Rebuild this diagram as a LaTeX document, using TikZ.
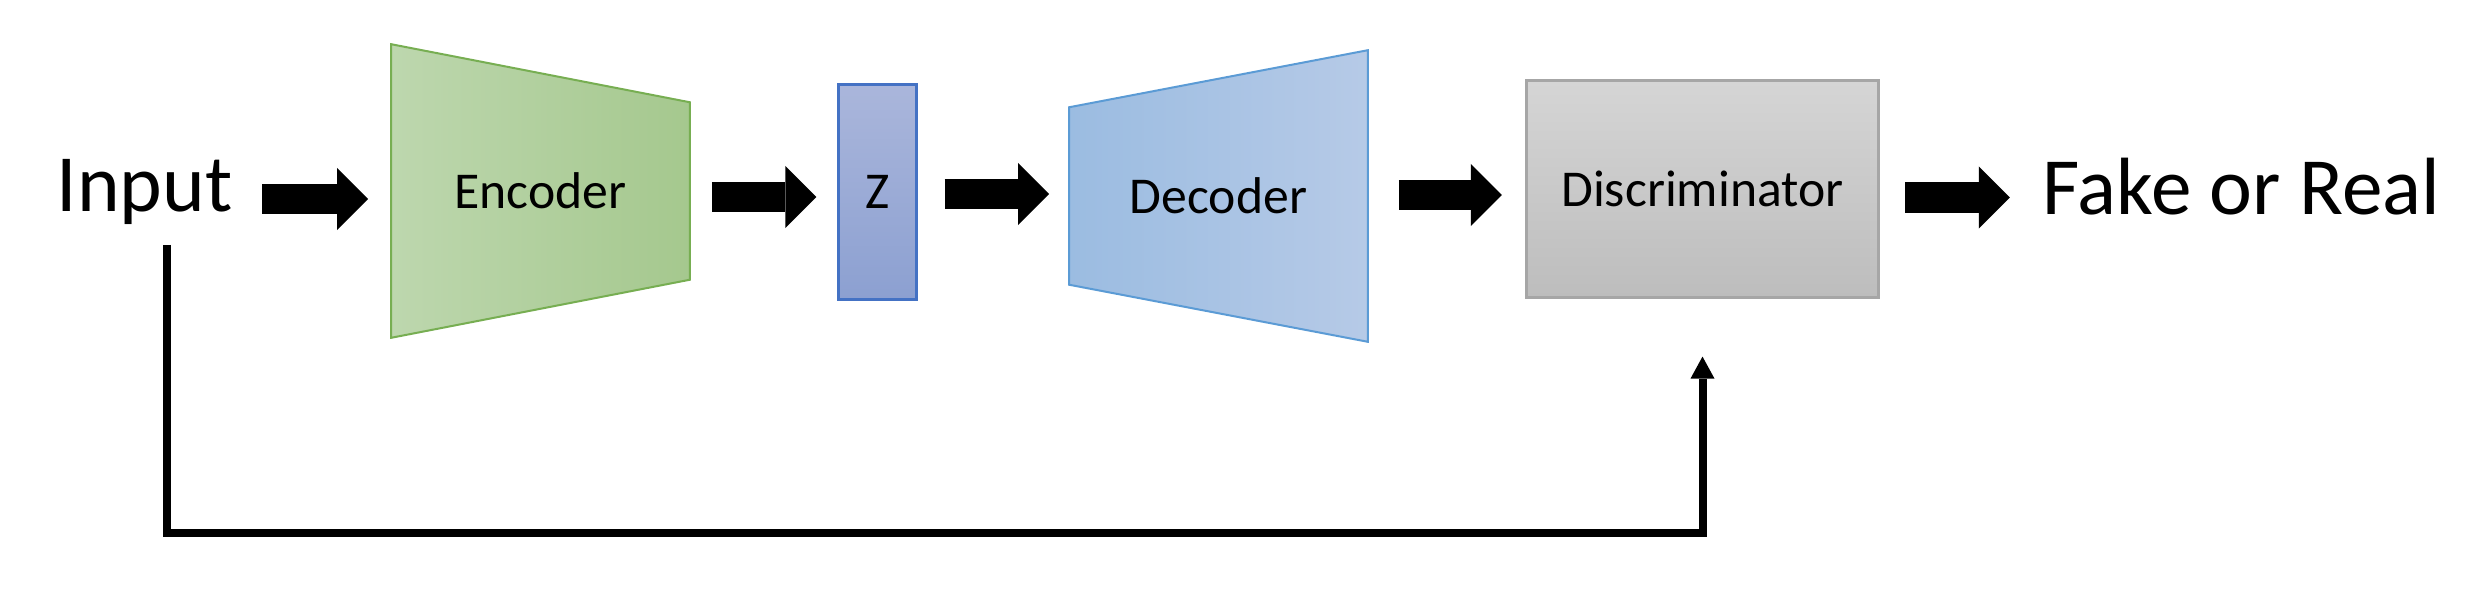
\documentclass[tikz,border=0pt]{standalone}
\usepackage{fontspec}
\setmainfont{Carlito}
\usetikzlibrary{arrows.meta,backgrounds}
\definecolor{encL}{HTML}{BDD7AE}
\definecolor{encR}{HTML}{A5C88E}
\definecolor{encB}{HTML}{77AE52}
\definecolor{decL}{HTML}{9BBCE1}
\definecolor{decR}{HTML}{B6CAE7}
\definecolor{decB}{HTML}{5B9BD5}
\definecolor{zT}{HTML}{AAB6DB}
\definecolor{zBot}{HTML}{8CA0D1}
\definecolor{zB}{HTML}{4472C4}
\definecolor{dT}{HTML}{D5D5D5}
\definecolor{dBot}{HTML}{BDBDBD}
\definecolor{dB}{HTML}{A6A6A6}
\begin{document}
\begin{tikzpicture}[x=0.01cm,y=-0.01cm,
  blk/.style={line width=0.30cm,-{Triangle[length=0.31cm,width=0.62cm,line width=0pt]}},
  fb/.style={line width=0.08cm,-{Triangle[length=0.22cm,width=0.24cm,line width=0pt]}},
  lbl/.style={font=\fontsize{14.7}{17}\selectfont, inner sep=0pt},
  big/.style={font=\fontsize{23.1}{27}\selectfont, inner sep=0pt}]
\useasboundingbox (0,0) rectangle (2474,600);
% nodes
\node[big,anchor=base west] (input) at (56,211) {Input};
\node[lbl, minimum width=2.97cm, minimum height=2.92cm] (enc) at (540.5,191) {Encoder};
\node[lbl, draw=zB, line width=0.03cm, top color=zT, bottom color=zBot,
      minimum width=0.77cm, minimum height=2.14cm] (z) at (877.5,192) {Z};
\node[lbl, minimum width=2.97cm, minimum height=2.90cm] (dec) at (1218.5,196) {Decoder};
\node[lbl, draw=dB, line width=0.03cm, top color=dT, bottom color=dBot,
      minimum width=3.52cm, minimum height=2.16cm] (disc) at (1702.5,189) {Discriminator};
\node[big,anchor=base west] (out) at (2042,214) {Fake or Real};
% trapezoid bodies
\begin{scope}[on background layer]
\shadedraw[left color=encL, right color=encR, draw=encB, line width=0.02cm]
  (enc.north west) -- ([yshift=-0.58cm]enc.north east) -- ([yshift=0.58cm]enc.south east) -- (enc.south west) -- cycle;
\shadedraw[left color=decL, right color=decR, draw=decB, line width=0.02cm]
  ([yshift=-0.57cm]dec.north west) -- (dec.north east) -- (dec.south east) -- ([yshift=0.57cm]dec.south west) -- cycle;
\end{scope}
% arrow rows
\coordinate (r1) at (0,199);
\coordinate (r2) at (0,197);
\coordinate (r3) at (0,194);
\coordinate (r4) at (0,195);
\coordinate (r5) at (0,197.5);
\draw[blk, shorten <=0.29cm, shorten >=0.23cm] (input.east |- r1) -- (enc.west |- r1);
\draw[blk, shorten <=0.22cm, shorten >=0.21cm] (enc.east |- r2) -- (z.west |- r2);
\draw[blk, shorten <=0.27cm, shorten >=0.20cm] (z.east |- r3) -- (dec.west |- r3);
\draw[blk, shorten <=0.31cm, shorten >=0.23cm] (dec.east |- r4) -- (disc.west |- r4);
\draw[blk, shorten <=0.25cm, shorten >=0.32cm] (disc.east |- r5) -- (out.west |- r5);
% feedback
\draw[fb, shorten >=0.58cm] ([xshift=0.22cm,yshift=-0.20cm]input.south) -- ++(0,-2.88cm) -| (disc.south);
\end{tikzpicture}
\end{document}
